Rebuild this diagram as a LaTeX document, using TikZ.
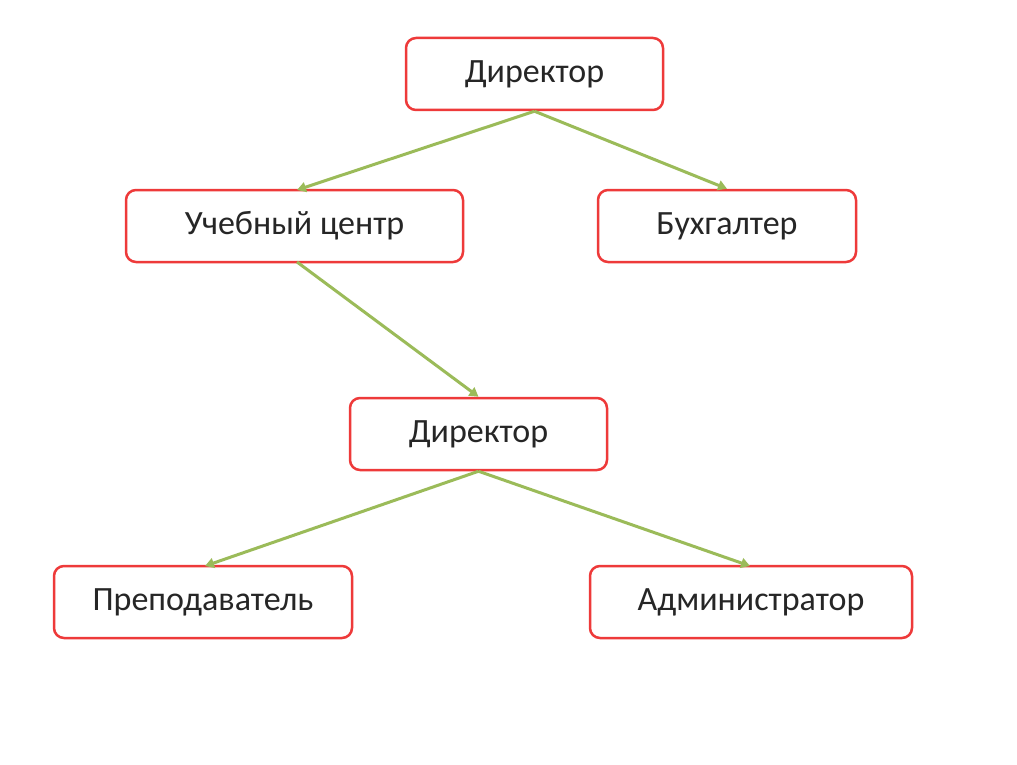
\documentclass[tikz,border=0pt]{standalone}
\usepackage{fontspec}
\setmainfont{Carlito}
\usetikzlibrary{arrows.meta}
\definecolor{boxred}{RGB}{238,58,58}
\definecolor{arrgreen}{RGB}{155,187,89}
\begin{document}
\begin{tikzpicture}[x=1pt,y=-1pt,
  orgbox/.style={draw=boxred,line width=2.5pt,rounded corners=10pt,fill=white,font=\fontsize{34}{40}\selectfont,text=black!85},
  conn/.style={draw=arrgreen,line width=3pt,-{Triangle[length=9pt,width=10pt]}}]
\useasboundingbox[fill=white] (0,0) rectangle (1017,765);
\node[orgbox,minimum width=257pt,minimum height=72pt] (d1) at (534.5,74) {Директор};
\node[orgbox,minimum width=337pt,minimum height=72pt] (uc) at (294.5,226) {Учебный центр};
\node[orgbox,minimum width=258pt,minimum height=72pt] (bu) at (727,226) {Бухгалтер};
\node[orgbox,minimum width=257pt,minimum height=72pt] (d2) at (478.5,434) {Директор};
\node[orgbox,minimum width=298pt,minimum height=72pt] (pr) at (203,602) {Преподаватель};
\node[orgbox,minimum width=322pt,minimum height=72pt] (ad) at (751,602) {Администратор};
\coordinate (uct) at (297,190);
\draw[conn] (d1.south) -- (uct);
\draw[conn] (d1.south) -- (bu.north);
\draw[conn] (297,262) coordinate (ucb) -- (d2.north);
\draw[conn] (d2.south) -- (205,566) coordinate (prt);
\draw[conn] (d2.south) -- (750,566) coordinate (adt);
\end{tikzpicture}
\end{document}
